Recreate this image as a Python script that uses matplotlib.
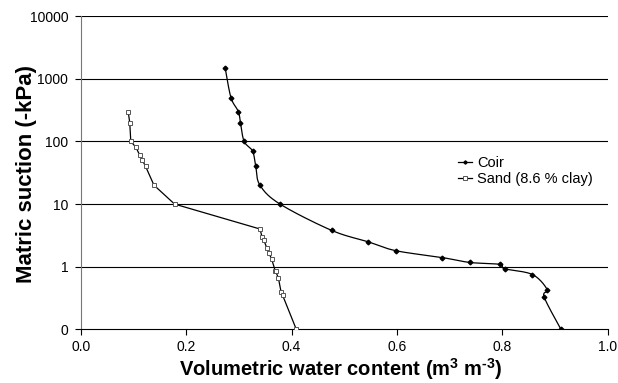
import numpy as np
import matplotlib
matplotlib.use('Agg')
import matplotlib.pyplot as plt
from matplotlib.ticker import FixedLocator, FuncFormatter, NullLocator

plt.rcParams['font.family'] = ['Liberation Sans', 'DejaVu Sans']
plt.rcParams['mathtext.fontset'] = 'custom'
plt.rcParams['mathtext.rm'] = 'Liberation Sans:bold'
plt.rcParams['mathtext.bf'] = 'Liberation Sans:bold'

# water retention data (suction in -kPa, 0.1 is the bottom "0" row)
coir_theta = [0.274, 0.285, 0.299, 0.303, 0.310, 0.326, 0.332, 0.340,
              0.378, 0.476, 0.545, 0.598, 0.686, 0.738, 0.795, 0.804,
              0.857, 0.885, 0.879, 0.911]
coir_suction = [1500, 500, 300, 200, 100, 70, 40, 20,
                10, 3.8, 2.5, 1.8, 1.4, 1.17, 1.09, 0.93,
                0.75, 0.43, 0.33, 0.1]

sand_theta = [0.090, 0.093, 0.095, 0.105, 0.112, 0.117, 0.123, 0.139,
              0.178, 0.340, 0.344, 0.347, 0.353, 0.357, 0.362, 0.369,
              0.370, 0.375, 0.380, 0.383, 0.409]
sand_suction = [300, 200, 100, 80, 60, 50, 40, 20,
                10, 4, 3, 2.7, 2, 1.64, 1.34, 0.86,
                0.84, 0.66, 0.40, 0.35, 0.1]

yticks = [0.1, 1, 10, 100, 1000, 10000]


def smooth(x, y, n=20):
    # catmull-rom through the points, done in (x, log y) space
    px = np.asarray(x, float)
    py = np.log10(np.asarray(y, float))
    sx, sy = 1.0, np.log10(10000 / 0.1)
    P = np.column_stack([px / sx, py / sy])
    P = np.vstack([P[0], P, P[-1]])
    out = []
    t = np.linspace(0, 1, n, endpoint=False)[:, None]
    for i in range(1, len(P) - 2):
        p0, p1, p2, p3 = P[i - 1], P[i], P[i + 1], P[i + 2]
        seg = 0.5 * ((2 * p1) + (-p0 + p2) * t +
                     (2 * p0 - 5 * p1 + 4 * p2 - p3) * t ** 2 +
                     (-p0 + 3 * p1 - 3 * p2 + p3) * t ** 3)
        out.append(seg)
    out.append(P[-2][None, :])
    out = np.vstack(out)
    return out[:, 0] * sx, 10 ** (out[:, 1] * sy)


fig = plt.figure(figsize=(6.18, 3.83), dpi=100)
ax = fig.add_axes([0.1306, 0.140, 0.853, 0.818])

ax.set_yscale('log')
ax.set_xlim(0, 1.0)
ax.set_ylim(0.1, 10000)

for v in yticks[1:]:
    ax.axhline(v, color='black', lw=0.8, zorder=1)

cx, cy = smooth(coir_theta, coir_suction)
ax.plot(cx, cy, color='black', lw=0.9, zorder=3)
ax.plot(coir_theta, coir_suction, ls='none', marker='D', ms=2.4,
        mfc='black', mec='black', zorder=4)
ax.plot([], [], color='black', lw=0.9, marker='D', ms=2.4, label='Coir')

ax.plot(sand_theta, sand_suction, color='black', lw=0.9, marker='s', ms=3.3,
        mfc='white', mec='#555555', mew=0.7, zorder=3,
        label='Sand (8.6 % clay)')

ax.yaxis.set_major_locator(FixedLocator(yticks))
ax.yaxis.set_minor_locator(NullLocator())
ax.yaxis.set_major_formatter(FuncFormatter(lambda v, p: '0' if v < 1 else '%d' % v))
ax.set_xticks(np.arange(0, 1.01, 0.2))
ax.xaxis.set_major_formatter(FuncFormatter(lambda v, p: '%.1f' % v))
ax.tick_params(axis='both', direction='out', length=4, width=0.8,
               labelsize=10, colors='black', pad=5)
ax.tick_params(axis='x', pad=4)

for s in ['top', 'right']:
    ax.spines[s].set_visible(False)
ax.spines['left'].set_color('#777777')
ax.spines['bottom'].set_color('black')

ax.set_xlabel('Volumetric water content (m$^{\\text{3}}$ m$^{\\text{-3}}$)',
              fontsize=14.5, fontweight='bold', va='bottom')
ax.set_ylabel('Matric suction (-kPa)', fontsize=16, fontweight='bold',
              va='baseline')
ax.xaxis.set_label_coords(0.4935, -0.167)
ax.yaxis.set_label_coords(-0.0918, 0.496)

ax.legend(loc='center left', bbox_to_anchor=(0.715, 0.505), frameon=False,
          fontsize=10.5, handlelength=1.0, handletextpad=0.35,
          labelspacing=0.15, borderpad=0, borderaxespad=0, markerscale=0.7)

fig.savefig('out.png', dpi=100)
